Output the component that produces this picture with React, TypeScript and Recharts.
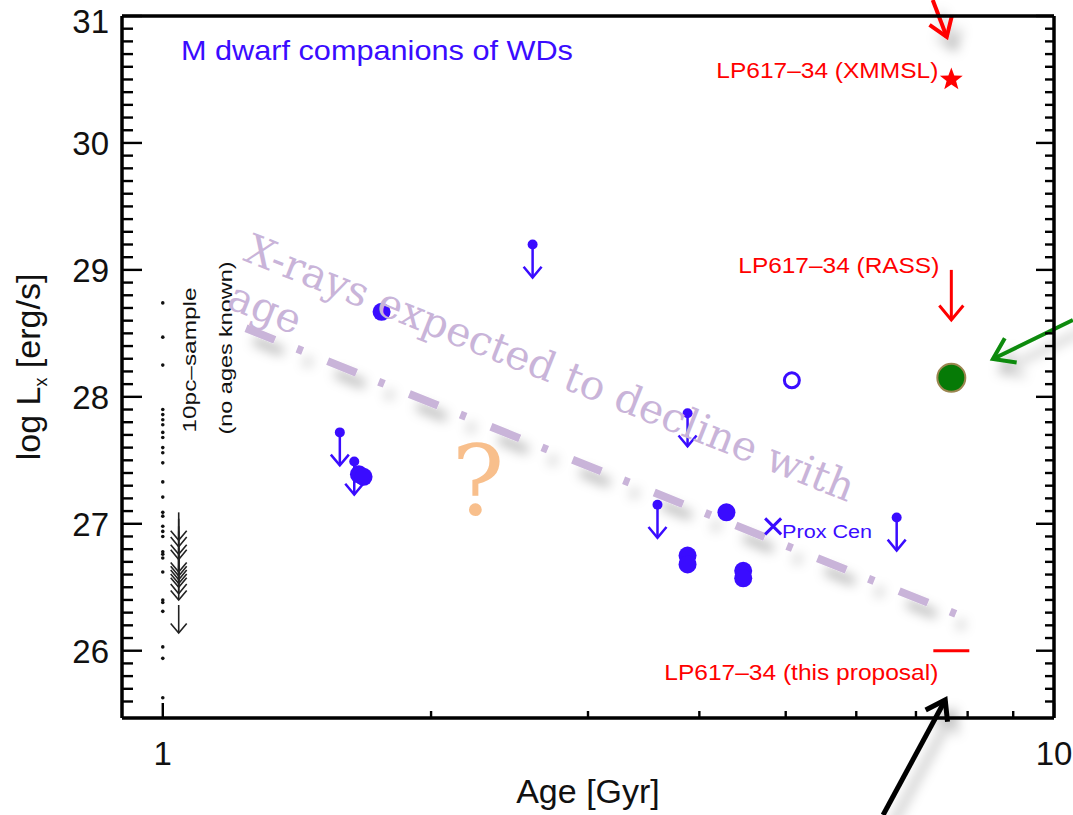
import React from 'react';
import { ScatterChart, Scatter, XAxis, YAxis, ReferenceLine, ReferenceDot } from 'recharts';

// 10pc sample (no ages known) - drawn at 1 Gyr
const SAMPLE_AGE = 1.0;
const SAMPLE_LIMIT_AGE = 1.042;
const sampleLx = [
  28.74, 28.47, 28.25, 27.9, 27.86, 27.82, 27.78, 27.72, 27.68, 27.6, 27.56, 27.48, 27.33, 27.21,
  27.09, 27.06, 26.98, 26.94, 26.9, 26.78, 26.76, 26.73, 26.62, 26.4, 26.38, 26.31, 26.03, 25.94, 25.63,
];
const sampleLimitLx = [27.09, 27.04, 26.98, 26.94, 26.84, 26.81, 26.78, 26.75, 26.72, 26.67, 26.62, 26.36];

// M dwarf companions of WDs
const detAge = [1.76, 1.66, 1.68, 4.29, 3.88, 3.88, 4.48, 4.48];
const detLx = [28.67, 27.39, 27.37, 27.09, 26.75, 26.68, 26.63, 26.57];
const limAge = [2.6, 1.58, 1.64, 3.88, 3.59, 6.66];
const limLx = [29.2, 27.72, 27.49, 27.87, 27.15, 27.05];
const openAge = [5.08];
const openLx = [28.13];
const proxAge = [4.84];
const proxLx = [26.98];

// LP617-34
const lpAge = [7.67];
const lpXmmslLx = [30.5];
const lpRassLx = [29.0];
const lpGreenLx = [28.15];
const lpProposalLx = [26.0];

// expected decline
const trendAge = [1.24, 7.76];
const trendLx = [28.54, 26.29];

const xTicks = [1, 2, 3, 4, 5, 6, 7, 8, 9, 10];
const xLabelTicks = [1, 10];
const yTicks: number[] = [];
for (let v = 256; v <= 310; v++) yTicks.push(v / 10);

const FONT = '"Liberation Sans", Arial, Helvetica, sans-serif';
const SERIF = '"DejaVu Serif", "Liberation Serif", serif';
const BLUE = '#3a0cff';
const RED = '#ff0000';
const LILAC = '#c9b4d9';

const pts = (ages: number[], lx: number[]) => ages.map((age, i) => ({ age, lx: lx[i] }));
const detections = pts(detAge, detLx);
const limits = pts(limAge, limLx);
const openPts = pts(openAge, openLx);
const proxPts = pts(proxAge, proxLx);
const samplePts = sampleLx.map((lx) => ({ age: SAMPLE_AGE, lx }));
const sampleLimits = sampleLimitLx.map((lx) => ({ age: SAMPLE_LIMIT_AGE, lx }));

const isMajor = (v: number) => Math.abs(v - Math.round(v)) < 1e-6;

const LeftTick = (p: any) => {
  const { x, y, payload } = p;
  const m = isMajor(payload.value);
  // top label sits a little lower so it stays inside the page
  const shift = payload.value >= 31 ? 5 : 0;
  return (
    <g>
      <line x1={x} x2={x + (m ? 20 : 11)} y1={y} y2={y} stroke="#000" strokeWidth={2.4} />
      {m && (
        <text x={x - 13} y={y + shift} dy="0.36em" textAnchor="end" fontSize={33} fontFamily={FONT} fill="#111">
          {Math.round(payload.value)}
        </text>
      )}
    </g>
  );
};

const RightTick = (p: any) => {
  const { x, y, payload } = p;
  const m = isMajor(payload.value);
  return <line x1={x} x2={x - (m ? 18 : 9)} y1={y} y2={y} stroke="#000" strokeWidth={2.4} />;
};

const BottomTick = (p: any) => {
  const { x, y, payload } = p;
  const m = xLabelTicks.includes(payload.value);
  return (
    <g>
      <line x1={x} x2={x} y1={y} y2={y - (m ? 15 : 7)} stroke="#000" strokeWidth={2.4} />
      {m && (
        <text x={x} y={y + 47} textAnchor="middle" fontSize={33} fontFamily={FONT} fill="#111">
          {payload.value}
        </text>
      )}
    </g>
  );
};

const TopTick = (p: any) => {
  const { x, y, payload } = p;
  const m = xLabelTicks.includes(payload.value);
  return <line x1={x} x2={x} y1={y} y2={y + (m ? 14 : 7)} stroke="#000" strokeWidth={2.4} />;
};

const XTitle = (p: any) => {
  const vb = p.viewBox || { x: 122, y: 718, width: 932, height: 97 };
  return (
    <text x={vb.x + vb.width / 2} y={vb.y + 85} textAnchor="middle" fontSize={34} fontFamily={FONT} fill="#111">
      Age [Gyr]
    </text>
  );
};

const YTitle = (p: any) => {
  const vb = p.viewBox || { x: 0, y: 16, width: 122, height: 702 };
  const cx = vb.x + 40;
  const cy = vb.y + vb.height / 2;
  return (
    <text transform={`translate(${cx},${cy}) rotate(-90)`} textAnchor="middle" fontSize={34} fontFamily={FONT} fill="#111">
      log L<tspan fontSize={18} dy={7}>x</tspan>
      <tspan dy={-7}> [erg/s]</tspan>
    </text>
  );
};

const upperLimit = (color: string, len: number, head: number, dotR: number, sw: number) => (p: any) => {
  const { cx, cy } = p;
  return (
    <g>
      {dotR > 0 && <circle cx={cx} cy={cy} r={dotR} fill={color} />}
      <line x1={cx} y1={cy} x2={cx} y2={cy + len} stroke={color} strokeWidth={sw} />
      <polyline
        points={`${cx - head},${cy + len - head * 1.2} ${cx},${cy + len} ${cx + head},${cy + len - head * 1.2}`}
        fill="none"
        stroke={color}
        strokeWidth={sw}
      />
    </g>
  );
};

const redLabel = (text: string, dx: number, dy: number, width: number) => (cx: number, cy: number) => (
  <text x={cx + dx} y={cy + dy} textAnchor="end" fontSize={22} fontFamily={FONT} fill={RED}
    textLength={width} lengthAdjust="spacingAndGlyphs">
    {text}
  </text>
);

const starPoints = (cx: number, cy: number, R: number, r: number) => {
  const out: string[] = [];
  for (let i = 0; i < 10; i++) {
    const a = -Math.PI / 2 + (i * Math.PI) / 5;
    const rad = i % 2 === 0 ? R : r;
    out.push(`${cx + rad * Math.cos(a)},${cy + rad * Math.sin(a)}`);
  }
  return out.join(' ');
};

const arrowShape = (color: string, width: number, head: number) => (p: any) => {
  const { x1, y1, x2, y2 } = p;
  const ang = Math.atan2(y2 - y1, x2 - x1);
  const h1 = ang + Math.PI - 0.6;
  const h2 = ang + Math.PI + 0.6;
  return (
    <g filter="url(#dropShadow)">
      <line x1={x1} y1={y1} x2={x2} y2={y2} stroke={color} strokeWidth={width} />
      <polyline
        points={`${x2 + head * Math.cos(h1)},${y2 + head * Math.sin(h1)} ${x2},${y2} ${x2 + head * Math.cos(h2)},${y2 + head * Math.sin(h2)}`}
        fill="none"
        stroke={color}
        strokeWidth={width}
      />
    </g>
  );
};

export default function App() {
  return (
    <div style={{ position: 'absolute', left: 0, top: 0, background: '#fff' }}>
      <ScatterChart width={1073} height={815} margin={{ top: 0, right: 0, bottom: 0, left: 0 }}>
        <defs>
          <filter id="dropShadow" filterUnits="userSpaceOnUse" x={0} y={0} width={1073} height={815}>
            <feDropShadow dx={8} dy={12} stdDeviation={6} floodColor="#000" floodOpacity={0.3} />
          </filter>
        </defs>
        <XAxis
          dataKey="age" type="number" scale="log" domain={[0.9, 10]} allowDataOverflow
          ticks={xTicks} interval={0} tick={BottomTick} tickLine={false} tickSize={0} tickMargin={0}
          height={97} axisLine={{ stroke: '#000', strokeWidth: 3.5 }} label={XTitle}
        />
        <XAxis
          xAxisId="top" orientation="top" type="number" scale="log" domain={[0.9, 10]} allowDataOverflow
          ticks={xTicks} interval={0} tick={TopTick} tickLine={false} tickSize={0} tickMargin={0}
          height={16} axisLine={{ stroke: '#000', strokeWidth: 3.5 }}
        />
        <YAxis
          dataKey="lx" type="number" domain={[25.47, 31]} allowDataOverflow
          ticks={yTicks} interval={0} tick={LeftTick} tickLine={false} tickSize={0} tickMargin={0}
          width={122} axisLine={{ stroke: '#000', strokeWidth: 3.5 }} label={YTitle}
        />
        <YAxis
          yAxisId="right" orientation="right" type="number" domain={[25.47, 31]} allowDataOverflow
          ticks={yTicks} interval={0} tick={RightTick} tickLine={false} tickSize={0} tickMargin={0}
          width={19} axisLine={{ stroke: '#000', strokeWidth: 3.5 }}
        />

        <ReferenceLine
          segment={[{ x: trendAge[0], y: trendLx[0] }, { x: trendAge[1], y: trendLx[1] }]}
          ifOverflow="visible"
          shape={(p: any) => (
            <line x1={p.x1} y1={p.y1} x2={p.x2} y2={p.y2} stroke={LILAC} strokeWidth={8}
              strokeDasharray="31 24 6 27" filter="url(#dropShadow)" />
          )}
        />

        <Scatter data={samplePts} isAnimationActive={false}
          shape={(p: any) => <circle cx={p.cx} cy={p.cy} r={1.8} fill="#111" />} />
        <Scatter data={sampleLimits} isAnimationActive={false} shape={upperLimit('#222', 28, 8, 0, 1.6)} />

        <Scatter data={limits} isAnimationActive={false} shape={upperLimit(BLUE, 33, 9, 5, 2.5)} />
        <Scatter data={detections} isAnimationActive={false}
          shape={(p: any) => <circle cx={p.cx} cy={p.cy} r={9} fill={BLUE} />} />
        <Scatter data={openPts} isAnimationActive={false}
          shape={(p: any) => <circle cx={p.cx} cy={p.cy} r={7.5} fill="#fff" stroke={BLUE} strokeWidth={3} />} />
        <Scatter data={proxPts} isAnimationActive={false}
          shape={(p: any) => (
            <g>
              <path d={`M${p.cx - 8},${p.cy - 8}L${p.cx + 8},${p.cy + 8}M${p.cx - 8},${p.cy + 8}L${p.cx + 8},${p.cy - 8}`}
                stroke={BLUE} strokeWidth={3} />
              <text x={p.cx + 9} y={p.cy + 12} fontSize={18} fontFamily={FONT} fill={BLUE}
                textLength={90} lengthAdjust="spacingAndGlyphs">Prox Cen</text>
            </g>
          )} />

        <Scatter data={pts(lpAge, lpXmmslLx)} isAnimationActive={false}
          shape={(p: any) => (
            <g>
              <polygon points={starPoints(p.cx, p.cy, 12, 5)} fill={RED} />
              {redLabel('LP617\u201334 (XMMSL)', -13, -1, 222)(p.cx, p.cy)}
            </g>
          )} />
        <Scatter data={pts(lpAge, lpRassLx)} isAnimationActive={false}
          shape={(p: any) => (
            <g>
              {upperLimit(RED, 50, 12, 0, 3)(p)}
              {redLabel('LP617\u201334 (RASS)', -12, 3, 201)(p.cx, p.cy)}
            </g>
          )} />
        <Scatter data={pts(lpAge, lpGreenLx)} isAnimationActive={false}
          shape={(p: any) => <circle cx={p.cx} cy={p.cy} r={14} fill="#067a06" stroke="#9c8650" strokeWidth={2} />} />
        <Scatter data={pts(lpAge, lpProposalLx)} isAnimationActive={false}
          shape={(p: any) => (
            <g>
              <line x1={p.cx - 18} x2={p.cx + 18} y1={p.cy} y2={p.cy} stroke={RED} strokeWidth={3} />
              {redLabel('LP617\u201334 (this proposal)', -13, 29, 274)(p.cx, p.cy)}
            </g>
          )} />

        <ReferenceDot x={1.048} y={30.653} ifOverflow="visible"
          shape={(p: any) => (
            <text x={p.cx} y={p.cy} fontSize={28} fontFamily={FONT} fill={BLUE}
              textLength={392} lengthAdjust="spacingAndGlyphs">M dwarf companions of WDs</text>
          )} />
        <ReferenceDot x={1.089} y={28.29} ifOverflow="visible"
          shape={(p: any) => (
            <text transform={`translate(${p.cx},${p.cy}) rotate(-90)`} textAnchor="middle" fontSize={19}
              fontFamily={FONT} fill="#111" textLength={145} lengthAdjust="spacingAndGlyphs">{'10pc\u2013sample'}</text>
          )} />
        <ReferenceDot x={1.196} y={28.385} ifOverflow="visible"
          shape={(p: any) => (
            <text transform={`translate(${p.cx},${p.cy}) rotate(-90)`} textAnchor="middle" fontSize={19}
              fontFamily={FONT} fill="#111" textLength={173} lengthAdjust="spacingAndGlyphs">(no ages known)</text>
          )} />
        <ReferenceDot x={2.258} y={27.069} ifOverflow="visible"
          shape={(p: any) => (
            <text x={p.cx} y={p.cy} textAnchor="middle" fontSize={98} fontFamily={SERIF} fill="#f8bf8c">?</text>
          )} />
        <ReferenceDot x={1.227} y={29.078} ifOverflow="visible"
          shape={(p: any) => (
            <text transform={`translate(${p.cx},${p.cy}) rotate(21.8)`} fontSize={41} fontFamily={SERIF} fill={LILAC}>
              <tspan x={0} y={0}>X-rays expected to decline with</tspan>
              <tspan x={2} y={50}>age</tspan>
            </text>
          )} />

        <ReferenceLine segment={[{ x: 7.31, y: 31.126 }, { x: 7.58, y: 30.835 }]} ifOverflow="visible"
          shape={arrowShape(RED, 4, 21)} />
        <ReferenceLine segment={[{ x: 10.5, y: 28.605 }, { x: 8.54, y: 28.298 }]} ifOverflow="visible"
          shape={arrowShape('#0a8a0a', 4, 24)} />
        <ReferenceLine segment={[{ x: 6.43, y: 24.706 }, { x: 7.55, y: 25.612 }]} ifOverflow="visible"
          shape={arrowShape('#000', 5, 22)} />
      </ScatterChart>
    </div>
  );
}
